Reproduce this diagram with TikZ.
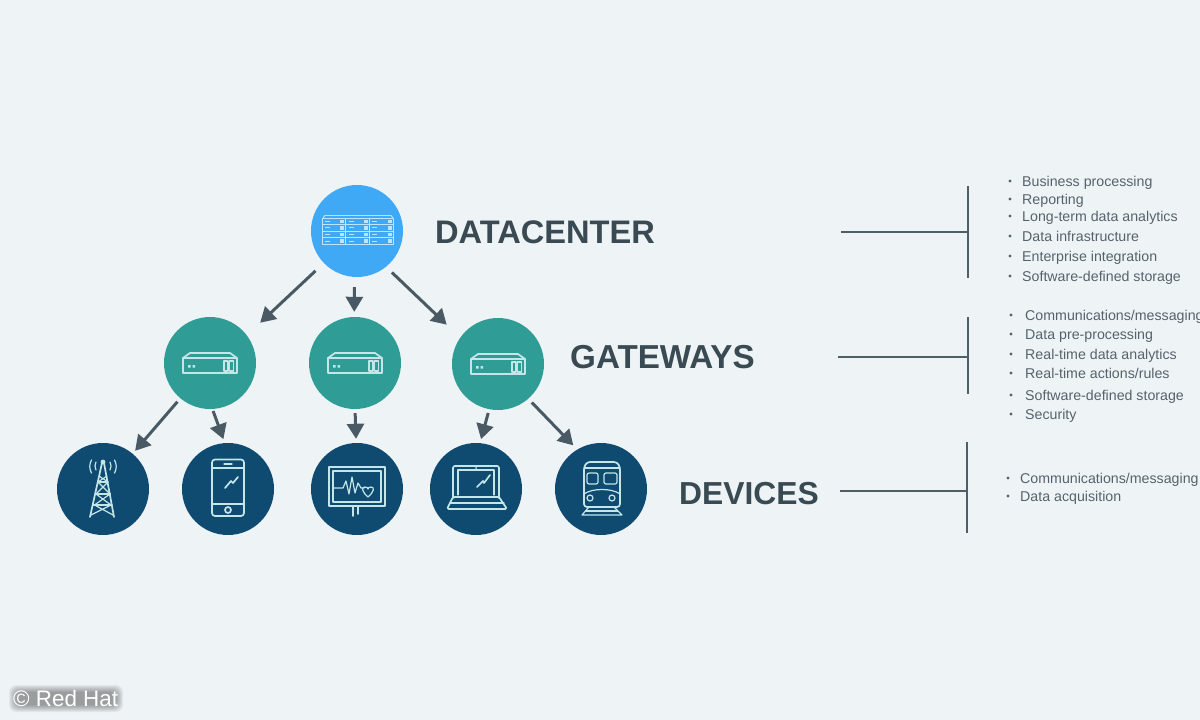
\documentclass[tikz,border=0pt]{standalone}
\usepackage{fontspec}
\setmainfont{Liberation Sans}
\usetikzlibrary{arrows.meta}
\definecolor{bgc}{HTML}{EEF3F6}
\definecolor{dcblue}{HTML}{3FA9F5}
\definecolor{gwteal}{HTML}{2F9C95}
\definecolor{devnavy}{HTML}{0F4A70}
\definecolor{arrowc}{HTML}{4A5A64}
\definecolor{barc}{HTML}{4D6068}
\definecolor{headc}{HTML}{3A4A52}
\definecolor{listc}{HTML}{56636C}
\definecolor{iconc}{HTML}{C4E6E8}
\definecolor{dciconc}{HTML}{BFE3FA}
\tikzset{
  hub/.style={circle,inner sep=0pt,minimum size=92pt,fill=#1,draw=none},
  conn/.style={draw=arrowc,line width=3pt,-{Triangle[length=15pt,width=17pt]}},
  bar/.style={draw=barc,line width=2.4pt},
  head/.style={anchor=base west,inner sep=0pt,text=headc,font=\fontsize{#1}{36}\selectfont\bfseries},
  item/.style={anchor=base west,inner sep=0pt,text=listc,font=\fontsize{14.2}{16}\selectfont},
  icon/.style={draw=iconc,line width=1.7pt,line join=round,line cap=round},
  thin icon/.style={draw=iconc,line width=1.2pt,line join=round,line cap=round},
  dc icon/.style={draw=dciconc,line width=0.9pt,line join=round},
}
\newcommand{\gwicon}[2]{%
  \begin{scope}[shift={(#1,#2)}]
    \draw[icon] (-27,-5) rectangle (27,10);
    \draw[icon] (-27,-5) -- (-20,-10) -- (20,-10) -- (27,-5);
    \fill[iconc] (-22,2) rectangle (-19.5,4.5) (-17.5,2) rectangle (-15,4.5);
    \draw[thin icon] (14,-2) rectangle (18,8) (19.5,-2) rectangle (23.5,8);
  \end{scope}}
\begin{document}
\begin{tikzpicture}[x=1pt,y=-1pt]
\useasboundingbox (0,0) rectangle (1200,720);
\fill[bgc] (0,0) rectangle (1200,720);
\clip (0,0) rectangle (1200,720);

% hubs
\node[hub=dcblue] (dc) at (357,231) {};
\node[hub=gwteal] (gw1) at (210,363) {};
\node[hub=gwteal] (gw2) at (355,363) {};
\node[hub=gwteal] (gw3) at (498,364) {};
\node[hub=devnavy] (d1) at (103,489) {};
\node[hub=devnavy] (d2) at (228,489) {};
\node[hub=devnavy] (d3) at (357,489) {};
\node[hub=devnavy] (d4) at (476,489) {};
\node[hub=devnavy] (d5) at (601,489) {};

% connectors
\draw[conn,shorten <=11.3pt,shorten >=18.2pt] (dc.224.3) -- (gw1.37.4);
\draw[conn,shorten <=10pt,shorten >=5pt] (dc.267) -- (gw2.91);
\draw[conn,shorten <=8pt,shorten >=18.6pt] (dc.-51) -- (gw3.145);
\draw[conn,shorten <=4.4pt,shorten >=3.7pt] (gw1.230.6) -- (d1.50);
\draw[conn,shorten <=2pt,shorten >=4pt] (gw1.273.6) -- (d2.94.6);
\draw[conn,shorten <=4pt,shorten >=4pt] (gw2.270) -- (d3.91);
\draw[conn,shorten <=3.8pt,shorten >=4pt] (gw3.259.6) -- (d4.85.4);
\draw[conn,shorten <=5pt,shorten >=5.6pt] (gw3.-49.8) -- (d5.121.5);

% datacenter icon
\draw[dc icon] (323,218) -- (325,215.5) -- (391,215.5) -- (393,218);
\draw[dc icon] (322,218) rectangle (393,244);
\foreach \yy in {224.5,231,237.5} \draw[dc icon] (322,\yy) -- (393,\yy);
\foreach \xx in {345,369} \draw[dc icon] (\xx,218) -- (\xx,244);
\foreach \xx in {340,364,388} \foreach \yy in {219.5,226,232.5,239}
  \fill[dciconc] (\xx,\yy) rectangle ++(3.5,3.5);
\foreach \xx in {325,349,372} \foreach \yy in {221,227.5,234,241}
  \draw[dciconc,line width=0.6pt] (\xx,\yy) -- ++(5,0);

% gateway icons
\gwicon{210}{363}
\gwicon{355}{363}
\gwicon{498}{364}

% tower
\draw[icon] (102,463) -- (90,517) (104,463) -- (114,517);
\draw[icon] (102,463) -- (104,463);
\draw[thin icon] (98,482) -- (108,482) (95.5,494) -- (110.5,494) (93,505) -- (112,505);
\draw[thin icon] (99,476) -- (108,482) -- (96,494) -- (111,505) -- (91,515)
                 (107,476) -- (98,482) -- (110,494) -- (94.5,505) -- (113,515);
\fill[iconc] (103,462) circle (2.4);
\draw[thin icon] (96,470) arc[start angle=150,end angle=210,radius=8]
                 (91.5,473) arc[start angle=150,end angle=210,radius=13]
                 (110,470) arc[start angle=30,end angle=-30,radius=8]
                 (114.5,473) arc[start angle=30,end angle=-30,radius=13];

% phone
\draw[icon,rounded corners=3pt] (212,459.5) rectangle (244,516);
\draw[thin icon] (212,468) -- (244,468) (212,504) -- (244,504);
\draw[icon] (228,510) circle (3);
\draw[thin icon] (224,464) -- (232,464);
\draw[icon] (225,488) -- (231,481) -- (233,483) -- (238,477);

% monitor
\draw[icon] (329,467) rectangle (385,506);
\draw[thin icon] (333,471) rectangle (381,502);
\draw[thin icon] (333,488) -- (343,488) -- (346,481) -- (349,494) -- (352,477) -- (355,493) -- (358,483) -- (361,488) -- (364,488);
\draw[thin icon] (368,497) .. controls (362,492) and (361,487) .. (365,487) .. controls (367,487) and (368,488) .. (368,489)
  .. controls (368,488) and (369,487) .. (371,487) .. controls (375,487) and (374,492) .. (368,497);
\draw[icon] (353,506) -- (353,516) (358,506) -- (358,514);

% laptop
\draw[icon,rounded corners=1.5pt] (453,497) -- (453,466) -- (499,466) -- (499,497);
\draw[thin icon] (458,495) -- (458,470) -- (494,470) -- (494,495);
\draw[icon,rounded corners=1.5pt] (453,497) -- (447,509) -- (507,509) -- (499,497) -- cycle;
\draw[thin icon] (450,503) -- (504,503);
\fill[iconc] (476,468) circle (1);
\draw[icon] (477,487) -- (483,481) -- (484,483) -- (490,475);

% train
\draw[icon,rounded corners=3pt] (584,507) -- (584,467) -- (587,462) -- (617,462) -- (620,467) -- (620,507) -- cycle;
\draw[thin icon] (584,468) -- (620,468);
\draw[thin icon,rounded corners=2pt] (587,473) rectangle (598,484) (604,473) rectangle (617,484);
\draw[thin icon] (584,494) .. controls (592,488) and (612,488) .. (620,494);
\draw[thin icon] (590,498) circle (3) (612,498) circle (3);
\draw[iconc,line width=2.4pt] (585,511) -- (618,511);
\draw[thin icon] (589,507) -- (582,515) (614,507) -- (622,515) (582,515) -- (622,515);

% level labels
\node[head=32.6] (ldc) at (435,243) {DATACENTER};
\node[head=33.2] (lgw) at (570,368) {GATEWAYS};
\node[head=31.8] (ldv) at (679,504) {DEVICES};

% brackets
\coordinate (bdc) at (968,232);
\coordinate (bgw) at (968,357);
\coordinate (bdv) at (967,491);
\draw[bar] (968,186) -- (968,278);
\draw[bar] (968,317) -- (968,394);
\draw[bar] (967,442) -- (967,533);
\draw[bar,shorten <=186pt] (ldc.east |- bdc) -- (bdc);
\draw[bar,shorten <=83pt] (lgw.east |- bgw) -- (bgw);
\draw[bar,shorten <=21pt] (ldv.east |- bdv) -- (bdv);

% lists
\foreach \yy/\tt/\nm in {181/Business processing/a1,199/Reporting/a2,216/Long-term data analytics/a3,236/Data infrastructure/a4,256/Enterprise integration/a5,276/Software-defined storage/a6}{
  \fill[listc] (1010,\yy) circle (1.6);
  \node[item] (\nm) at (1022,\yy+5.5) {\tt};}
\foreach \yy/\tt/\nm in {315/Communications\slash messaging/b1,334/Data pre-processing/b2,354/Real-time data analytics/b3,373/Real-time actions\slash rules/b4,395/Software-defined storage/b5,414/Security/b6}{
  \fill[listc] (1011,\yy) circle (1.6);
  \node[item] (\nm) at (1025,\yy+5.5) {\tt};}
\foreach \yy/\tt/\nm in {478/Communications\slash messaging/c1,496/Data acquisition/c2}{
  \fill[listc] (1008,\yy) circle (1.6);
  \node[item] (\nm) at (1020,\yy+5.5) {\tt};}

% copyright
\foreach \gg in {0,1,...,7}
  \fill[black,opacity=0.05,rounded corners=7pt] (9+\gg,685+\gg) rectangle (123-\gg,712-\gg);
\node[anchor=base west,inner sep=0pt,text=white,font=\fontsize{22.4}{26}\selectfont] (cr) at (13,706) {© Red Hat};
\end{tikzpicture}
\end{document}
